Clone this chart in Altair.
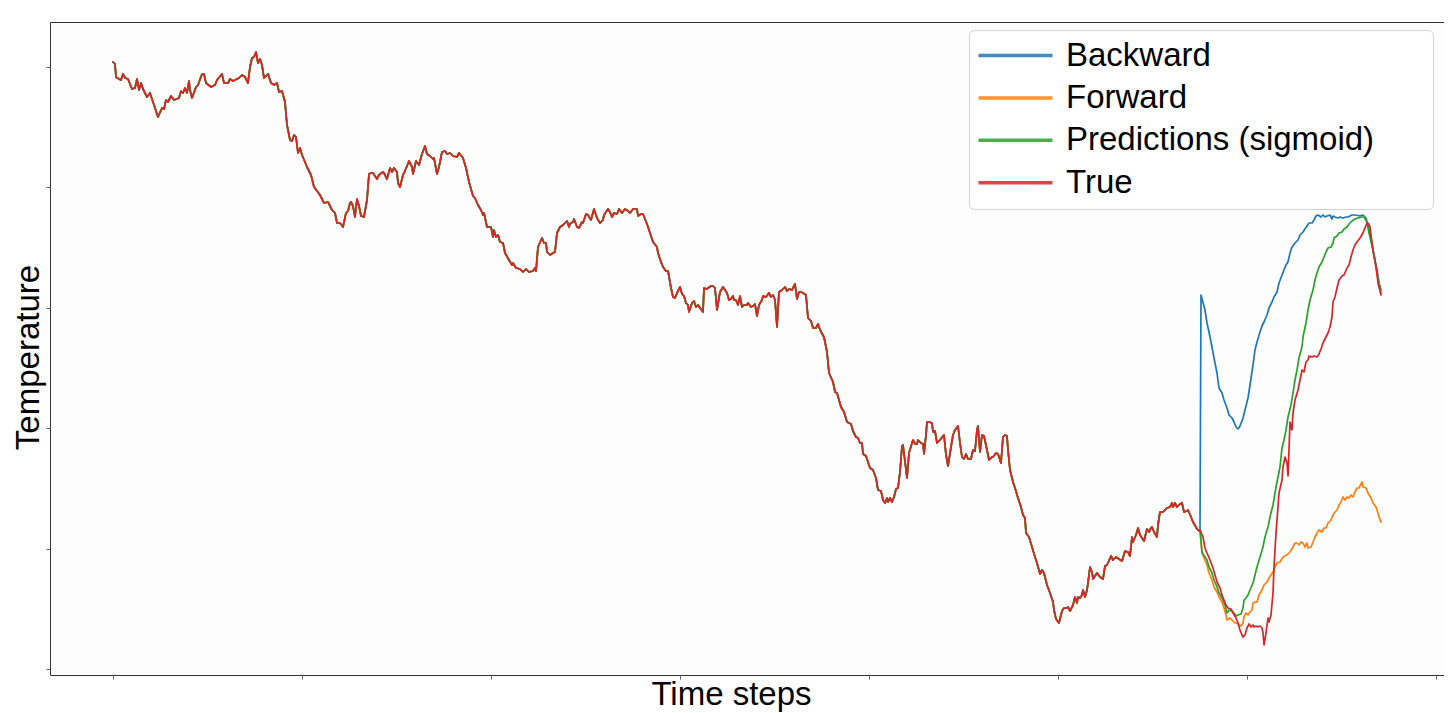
import altair as alt
import pandas as pd

SERIES = ["Backward", "Forward", "Predictions (sigmoid)", "True"]
COLORS = ["#1f77b4", "#ff7f0e", "#2ca02c", "#d62728"]

# history shared by every curve (time step, temperature)
shared_steps = [
    0, 2, 3, 6, 8, 10, 12, 15, 19, 22, 24, 26, 28, 30, 34, 37, 40, 45, 49, 51, 53, 55, 58, 61, 66, 68, 70, 72, 74, 76,
    77, 79, 83, 85, 89, 91, 93, 98, 102, 104, 109, 111, 115, 117, 120, 124, 126, 129, 132, 135, 137, 139, 141, 143,
    145, 147, 149, 151, 155, 158, 161, 164, 166, 169, 172, 174, 177, 179, 181, 183, 185, 187, 189, 192, 194, 198, 201,
    207, 211, 215, 219, 222, 224, 227, 230, 233, 235, 237,
    238, 240, 242, 244, 246, 248, 251, 254, 256, 258, 260, 264, 266, 270, 271, 274, 277, 279, 281, 284, 285, 287, 290,
    291, 294, 296, 299, 300, 303, 306, 309, 312, 314, 317, 320, 321, 324, 326, 329, 332, 334, 337, 340, 344, 346, 350,
    353, 356, 360, 362, 365, 368, 370, 371, 374, 378, 380, 381, 383, 385, 387, 390, 392, 396, 399, 400, 403, 407, 410,
    413, 416, 420, 422, 423, 425, 429, 431, 433, 434, 437, 440, 442, 444, 447, 450, 454, 456, 457,
    458, 460, 461, 464, 466, 469, 470, 473, 475, 478, 481, 484, 487, 490, 491, 495, 497, 499, 501, 504, 506, 509, 512,
    515, 517, 520, 524, 525, 528, 530, 532, 534, 537, 540, 544, 545, 548, 550, 553, 555, 558, 560, 562, 564, 567, 569,
    571, 573, 575, 576, 579, 581, 583, 585, 587, 590, 591, 594, 595, 598, 600, 602, 604, 607, 610, 612, 614, 616, 618,
    620, 621, 623, 625, 627, 629, 631, 634, 635, 638, 640, 642, 644, 646, 649, 650, 653, 656, 658, 660, 662, 664, 666,
    669, 672, 674, 676, 679, 680, 682, 684, 686, 688, 690, 693, 695, 698, 700, 703, 705, 708, 711,
    714, 716, 720, 722, 724, 728, 731, 734, 738, 740, 743, 745, 747, 749, 750, 753, 755, 757, 760, 763, 765, 768, 770,
    772, 774, 775, 777, 779, 781, 783, 785, 787, 789, 790, 794, 796, 799, 800, 802, 804, 805, 808, 810, 811, 813, 814,
    816, 819, 820, 822, 824, 827, 830, 831, 833, 835, 838, 840, 842, 845, 847, 849, 851, 853, 855, 858, 860, 862, 864,
    865, 867, 869, 871, 874, 876, 879, 880, 883, 885, 888, 890, 892, 894, 895, 897, 900, 902, 905, 908, 910, 912,
    913, 916, 919, 922, 924, 927, 929, 931, 934, 937, 940, 941, 943, 946, 949, 951, 954, 955, 957, 960, 962, 964, 965,
    967, 969, 970, 972, 974, 975, 977, 979, 980, 984, 987, 990, 992, 994, 998, 1000, 1003, 1006, 1009, 1012, 1015,
    1017, 1019, 1020, 1023, 1025, 1027, 1029, 1031, 1034, 1036, 1038, 1039, 1041, 1044, 1045, 1047, 1050, 1054, 1057,
    1059, 1060, 1062, 1064, 1067, 1069, 1071, 1074, 1075, 1078, 1080, 1084, 1086, 1087,
]
shared_temp = [
    60.7, 60.5, 59.2, 59.0, 58.9, 59.5, 59.1, 59.0, 58.0, 58.1, 59.0, 57.9, 58.6, 58.0, 57.2, 57.6, 56.7, 55.2, 56.1,
    56.0, 56.9, 56.7, 57.3, 56.9, 57.1, 57.8, 57.6, 58.1, 57.6, 58.8, 57.9, 57.1, 58.2, 58.4, 59.5, 59.5, 58.6, 58.2,
    58.4, 58.9, 59.5, 58.6, 58.6, 59.0, 58.8, 59.0, 59.1, 59.4, 59.2, 58.6, 60.2, 61.1, 61.2, 61.7, 60.6, 61.0, 60.4,
    59.1, 59.5, 58.6, 58.4, 58.6, 57.7, 57.8, 56.7, 54.4, 52.9, 52.8, 53.4, 53.2, 51.6, 52.1, 51.4, 50.7, 50.2, 49.4,
    48.2, 47.4, 46.6, 46.7, 45.9, 45.6, 44.6, 44.6, 44.2, 45.6, 45.8, 46.6,
    46.7, 46.3, 45.2, 47.0, 46.3, 45.3, 45.2, 46.9, 49.5, 49.6, 49.6, 49.0, 49.4, 49.7, 49.6, 49.0, 50.1, 49.7, 50.1,
    49.7, 48.6, 48.2, 49.4, 49.6, 50.3, 50.8, 50.2, 49.5, 50.8, 50.4, 51.5, 52.3, 51.5, 51.3, 51.0, 51.1, 49.5, 50.2,
    51.7, 51.8, 51.5, 51.6, 51.3, 51.2, 51.6, 51.1, 50.1, 48.7, 47.3, 47.1, 46.4, 45.9, 45.4, 45.6, 44.2, 44.2, 43.2,
    43.9, 43.2, 43.4, 42.7, 42.6, 41.6, 40.9, 40.4, 40.6, 40.1, 40.0, 39.7, 40.0, 39.7, 39.8, 40.1, 39.8, 42.2, 43.1,
    42.6, 42.6, 41.7, 41.4, 41.6, 41.7, 43.6, 44.2, 44.4, 44.8, 44.2, 44.5,
    44.6, 44.7, 45.0, 44.2, 44.1, 44.7, 44.6, 45.5, 45.4, 44.9, 46.0, 45.1, 44.6, 44.9, 45.4, 46.0, 45.7, 45.2, 45.6,
    45.5, 46.0, 45.6, 46.0, 45.8, 45.6, 46.0, 46.0, 45.3, 45.5, 45.5, 45.0, 44.5, 43.6, 42.7, 42.2, 41.6, 40.7, 40.2,
    39.8, 39.8, 38.1, 37.2, 37.1, 37.6, 38.2, 37.5, 37.3, 36.6, 36.4, 35.7, 36.6, 36.8, 36.2, 36.4, 36.1, 35.7, 38.1,
    38.0, 38.1, 38.3, 38.3, 38.1, 35.9, 37.7, 38.2, 37.9, 37.6, 36.9, 37.0, 37.3, 36.9, 36.9, 36.4, 37.3, 36.2, 36.4,
    36.4, 36.6, 36.2, 36.3, 36.5, 35.3, 36.4, 36.9, 37.3, 37.2, 37.6, 37.2, 37.4, 36.9, 34.2, 37.7, 37.9, 38.2, 37.8,
    38.0, 37.9, 38.1, 38.5, 37.0, 37.7, 37.7, 37.6, 37.4, 35.1, 34.8, 34.1, 34.1, 34.5, 33.7, 33.2,
    31.7, 29.6, 28.7, 27.7, 27.6, 26.2, 25.7, 24.7, 24.5, 23.8, 23.2, 23.1, 22.6, 22.6, 21.5, 21.3, 20.7, 20.1, 19.9,
    19.1, 17.9, 17.8, 16.9, 16.6, 17.1, 16.7, 17.1, 16.7, 17.2, 18.0, 18.1, 19.7, 22.3, 22.4, 19.1, 21.6, 22.6, 22.9,
    22.5, 22.5, 22.9, 22.6, 22.5, 21.5, 23.4, 24.7, 24.7, 24.6, 23.7, 23.8, 22.6, 22.9, 23.3, 23.4, 21.4, 20.3, 22.2,
    23.4, 23.9, 24.3, 22.6, 21.2, 21.0, 21.5, 21.0, 21.0, 21.9, 21.8, 23.9, 24.3, 21.7, 23.4, 23.3, 21.9, 20.9, 21.2,
    21.2, 21.6, 21.5, 20.6, 23.2, 23.4, 23.3, 21.9, 19.9, 18.7, 18.1, 17.1, 16.2, 15.4, 15.1,
    13.6, 13.2, 12.2, 11.2, 10.6, 9.5, 9.9, 9.6, 8.4, 7.6, 6.7, 5.9, 5.0, 4.6, 5.8, 6.1, 6.1, 6.2, 5.8, 6.4, 7.2, 6.6,
    7.2, 7.1, 7.4, 7.9, 7.2, 7.9, 8.6, 10.2, 9.7, 9.0, 9.6, 9.2, 9.0, 10.3, 10.4, 11.3, 10.9, 11.2, 11.0, 10.8, 11.8,
    11.7, 11.3, 13.2, 12.7, 13.4, 14.1, 13.4, 13.1, 12.8, 14.0, 13.7, 14.1, 14.2, 13.7, 13.2, 14.4, 15.7, 15.7, 16.1,
    16.2, 16.6, 16.2, 16.6, 16.2, 16.5, 16.6, 15.7, 15.8, 15.9, 15.2, 14.7, 14.0, 13.8, 13.9,
]

# continuation of each curve after the shared history
backward_steps = [
    1088, 1092, 1094, 1096, 1099, 1101, 1104, 1106, 1109, 1111, 1114, 1116, 1119, 1121, 1123, 1125, 1127, 1130, 1132,
    1135, 1137, 1140, 1142, 1144, 1147, 1149, 1151, 1154, 1156, 1159, 1161, 1164, 1166, 1169, 1171, 1173, 1175, 1177,
    1179, 1182, 1185, 1187, 1190, 1192, 1194, 1196, 1199, 1201, 1203, 1205, 1208, 1210, 1212, 1214, 1217, 1219, 1220,
    1222, 1225, 1227, 1230, 1233, 1235, 1239, 1242, 1247, 1250, 1253, 1254, 1257, 1260, 1264, 1266, 1268,
]
backward_temp = [
    37.4, 35.9, 34.6, 33.7, 32.2, 31.1, 29.6, 28.1, 27.6, 26.9, 26.1, 25.4, 25.1, 24.7, 24.2, 24.0, 24.3, 25.1, 25.9,
    27.1, 28.4, 30.4, 31.9, 32.7, 33.7, 34.3, 34.7, 35.4, 36.1, 36.7, 37.2, 37.7, 38.6, 39.4, 39.9, 40.4, 40.7, 41.6,
    42.2, 42.6, 42.9, 43.4, 43.7, 44.0, 44.3, 44.6, 44.6, 44.9, 45.3, 45.4, 45.2, 45.4, 45.2, 45.3, 45.4, 45.0, 45.3,
    45.2, 45.1, 45.2, 45.1, 45.2, 45.2, 45.4, 45.4, 45.3, 45.4, 45.1, 44.7, 43.6, 41.9, 39.9, 38.6, 37.9,
]
forward_steps = [
    1089, 1091, 1094, 1096, 1099, 1101, 1104, 1106, 1109, 1111, 1113, 1114, 1117, 1120, 1122, 1124, 1126, 1128, 1130,
    1131, 1133, 1135, 1137, 1139, 1140, 1142, 1144, 1146, 1149, 1151, 1154, 1156, 1158, 1160, 1162, 1164, 1167, 1170,
    1172, 1174, 1177, 1180, 1182, 1184, 1186, 1188, 1190, 1192, 1194, 1195, 1198, 1200, 1202, 1204, 1206, 1209, 1211,
    1213, 1215, 1218, 1220, 1222, 1224, 1226, 1228, 1230, 1232, 1234, 1236, 1238, 1240, 1242, 1244, 1246, 1249, 1250,
    1253, 1255, 1258, 1260, 1263, 1265, 1267, 1268,
]
forward_temp = [
    11.6, 11.1, 10.4, 9.6, 8.9, 8.2, 7.7, 7.2, 6.7, 6.1, 5.4, 4.9, 5.1, 4.8, 4.6, 4.6, 4.4, 4.3, 4.6, 5.2, 5.6, 5.4,
    5.7, 5.9, 6.6, 6.7, 6.7, 7.4, 7.9, 8.4, 8.7, 9.1, 9.4, 9.7, 10.2, 10.6, 10.7, 11.2, 11.3, 11.4, 11.7, 12.2, 12.6,
    12.6, 12.4, 12.7, 12.6, 12.2, 12.6, 12.1, 12.2, 12.7, 13.2, 13.6, 13.9, 13.7, 14.1, 14.1, 14.6, 14.9, 15.4, 15.7,
    15.9, 16.4, 16.7, 17.2, 16.9, 17.2, 17.1, 17.4, 17.2, 17.7, 18.1, 18.1, 18.7, 18.2, 18.1, 17.6, 17.1, 16.6, 16.2,
    15.6, 14.9, 14.7,
]
pred_steps = [
    1089, 1090, 1094, 1096, 1099, 1101, 1104, 1106, 1109, 1112, 1114, 1116, 1119, 1121, 1123, 1125, 1128, 1130, 1131,
    1133, 1135, 1137, 1140, 1142, 1144, 1147, 1150, 1152, 1155, 1157, 1160, 1162, 1164, 1167, 1169, 1171, 1173, 1175,
    1178, 1180, 1182, 1184, 1186, 1189, 1190, 1193, 1195, 1197, 1200, 1202, 1204, 1206, 1209, 1211, 1213, 1215, 1218,
    1220, 1221, 1224, 1226, 1229, 1231, 1234, 1236, 1239, 1242, 1245, 1249, 1251, 1254, 1256, 1260, 1263, 1266, 1268,
]
pred_temp = [
    11.7, 11.5, 10.9, 10.2, 9.6, 8.9, 8.2, 7.6, 7.1, 6.4, 5.6, 5.9, 5.8, 5.6, 5.3, 5.4, 5.5, 6.1, 6.9, 7.1, 7.4, 7.9,
    8.6, 9.4, 10.2, 11.2, 12.2, 13.2, 14.2, 15.2, 16.4, 17.6, 18.7, 20.2, 22.1, 22.9, 23.9, 25.2, 26.4, 27.6, 28.9,
    29.9, 31.1, 32.2, 33.2, 34.6, 35.9, 36.9, 37.9, 38.9, 39.6, 40.2, 40.7, 41.2, 41.7, 42.1, 42.2, 42.6, 43.1, 43.3,
    43.6, 43.7, 44.0, 44.2, 44.5, 44.8, 45.0, 45.1, 45.2, 45.2, 44.7, 43.6, 41.9, 40.2, 38.6, 37.6,
]
true_steps = [
    1090, 1092, 1094, 1097, 1100, 1102, 1104, 1107, 1109, 1111, 1113, 1115, 1118, 1120, 1123, 1125, 1127, 1129, 1130,
    1132, 1134, 1136, 1138, 1140, 1141, 1143, 1145, 1147, 1149, 1150, 1151, 1153, 1155, 1156, 1158, 1160, 1161, 1163,
    1165, 1166, 1169, 1170, 1172, 1174, 1175, 1176, 1177, 1179, 1180, 1182, 1185, 1187, 1189, 1191, 1193, 1195, 1196,
    1199, 1201, 1204, 1206, 1208, 1210, 1213, 1215, 1217, 1219, 1220, 1222, 1224, 1226, 1229, 1231, 1234, 1236, 1238,
    1240, 1242, 1244, 1247, 1250, 1252, 1254, 1255, 1257, 1260, 1263, 1265, 1268,
]
true_temp = [
    13.2, 12.1, 11.6, 10.9, 10.1, 9.4, 8.7, 8.1, 7.4, 6.9, 6.4, 6.1, 6.0, 5.6, 5.1, 4.6, 3.9, 3.4, 3.2, 3.4, 4.1, 4.5,
    4.2, 4.4, 4.2, 4.3, 4.2, 4.3, 4.1, 3.6, 2.4, 3.6, 5.1, 4.7, 5.4, 7.6, 10.2, 13.6, 16.2, 17.6, 18.9, 20.2, 21.2,
    20.6, 19.3, 21.9, 24.7, 23.9, 25.6, 26.9, 27.9, 28.9, 29.9, 29.7, 30.7, 30.9, 31.3, 31.2, 31.3, 31.2, 31.5, 32.0,
    32.6, 33.2, 33.6, 34.2, 35.2, 36.7, 37.2, 38.1, 38.9, 39.3, 39.4, 40.1, 40.4, 41.2, 41.9, 42.4, 42.7, 43.1, 43.6,
    44.1, 44.6, 44.6, 44.2, 41.9, 40.2, 38.6, 37.4,
]

x_ticks = [0, 189, 378, 567, 756, 945, 1134, 1323]
y_ticks = [0, 12.04, 24.08, 36.12, 48.16, 60.2]

tails = {
    "Backward": (backward_steps, backward_temp),
    "Forward": (forward_steps, forward_temp),
    "Predictions (sigmoid)": (pred_steps, pred_temp),
    "True": (true_steps, true_temp),
}
rows = []
for name in SERIES:
    xs, ys = tails[name]
    for s, t in zip(shared_steps + xs, shared_temp + ys):
        rows.append({"step": s, "temp": t, "series": name})
df = pd.DataFrame(rows)

FONT = "Liberation Sans"

# legend key: a short stroke; the trailing move-to only widens the legend frame
LEGEND_KEY = "M-3,0H3M32.5,0"

chart = (
    alt.Chart(df)
    .mark_line(strokeWidth=1.7, strokeJoin="round", strokeCap="round")
    .encode(
        x=alt.X(
            "step:Q",
            scale=alt.Scale(domain=[-63, 1331], nice=False, zero=False),
            axis=alt.Axis(
                values=x_ticks, labels=False, ticks=True, tickSize=4, tickColor="#666666",
                tickWidth=1, domain=False, grid=False,
                title="Time steps", titleFont=FONT, titleFontSize=33, titleFontWeight="normal",
                titleColor="#000000", titleX=681, titleY=29, titleAlign="center",
                titleBaseline="alphabetic",
            ),
        ),
        y=alt.Y(
            "temp:Q",
            scale=alt.Scale(domain=[-0.6, 64.7], nice=False, zero=False),
            axis=alt.Axis(
                values=y_ticks, labels=False, ticks=True, tickSize=4, tickColor="#666666",
                tickWidth=1, domain=False, grid=False,
                title="Temperature", titleFont=FONT, titleFontSize=33, titleFontWeight="normal",
                titleColor="#000000", titleAngle=270, titleX=-12, titleY=335,
                titleAlign="center", titleBaseline="alphabetic",
            ),
        ),
        color=alt.Color(
            "series:N",
            scale=alt.Scale(domain=SERIES, range=COLORS),
            legend=alt.Legend(
                title=None, orient="none", legendX=919, legendY=8,
                symbolType=LEGEND_KEY, symbolSize=608, symbolStrokeWidth=3.5, symbolOffset=21,
                symbolOpacity=0.85,
                labelFont=FONT, labelFontSize=33, labelColor="#000000", labelOffset=34,
                labelLimit=0, labelBaseline="middle",
                rowPadding=8.4, padding=9,
                strokeColor="#d2d2d2", fillColor="#ffffff", cornerRadius=5,
            ),
        ),
    )
    .properties(
        width=1394, height=653,
        autosize=alt.AutoSizeParams(type="none"),
        padding={"left": 42, "top": 14, "right": 0, "bottom": 37},
    )
    .configure_view(stroke="#333333", strokeWidth=1, fill="#fdfdfd")
)

chart.save("out.html", embed_options={"renderer": "svg", "actions": False})
